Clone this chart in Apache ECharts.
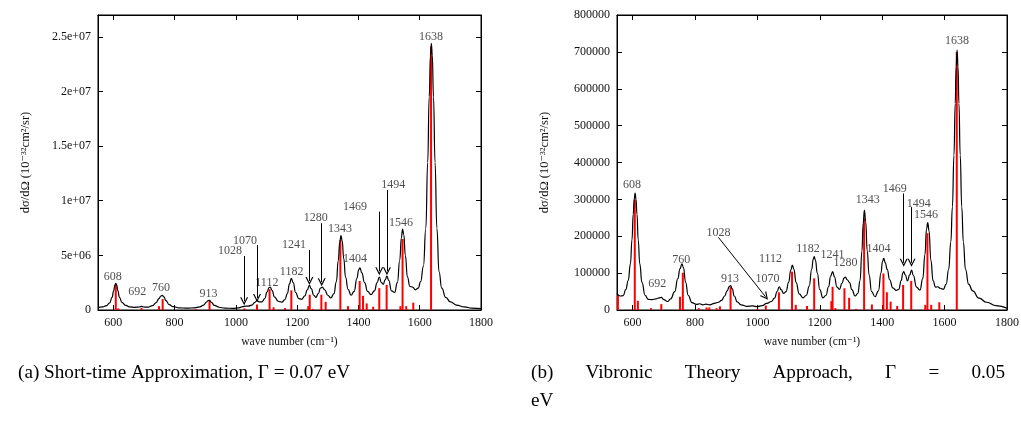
<!DOCTYPE html>
<html lang="en">
<head>
<meta charset="utf-8">
<title>Raman spectra</title>
<script src="https://cdn.jsdelivr.net/npm/echarts@6.0.0/dist/echarts.min.js"></script>
<style>
  html, body { margin: 0; padding: 0; background: #fff; }
  #main { width: 1021px; height: 441px; }
</style>
</head>
<body>
<div id="main"></div>
<script type="text/javascript">
// ---- axis ticks ----
var xTicks = [600, 800, 1000, 1200, 1400, 1600, 1800];
var yTicksA = [0, 5e6, 1e7, 1.5e7, 2e7, 2.5e7];
var yTicksB = [0, 100000, 200000, 300000, 400000, 500000, 600000, 700000, 800000];

// ---- (a) short-time approximation ----
// broadened spectrum [wave number, dσ/dΩ]
var curveA = [
    [550, 0.22e6], [565, 0.28e6], [578, 0.4e6], [588, 0.65e6], [596, 1.15e6], [601, 1.75e6], [605, 2.25e6],
    [608, 2.45e6], [611, 2.3e6], [615, 1.75e6], [620, 1.15e6], [628, 0.7e6], [640, 0.42e6], [655, 0.28e6],
    [670, 0.24e6], [682, 0.27e6], [692, 0.33e6], [702, 0.26e6], [715, 0.27e6], [728, 0.4e6], [740, 0.68e6],
    [749, 1.05e6], [755, 1.28e6], [760, 1.33e6], [765, 1.2e6], [772, 0.85e6], [782, 0.5e6], [795, 0.3e6],
    [815, 0.2e6], [840, 0.17e6], [865, 0.2e6], [882, 0.28e6], [895, 0.45e6], [904, 0.72e6], [910, 0.87e6],
    [914, 0.88e6], [920, 0.7e6], [930, 0.42e6], [945, 0.25e6], [965, 0.17e6], [990, 0.15e6], [1010, 0.2e6],
    [1022, 0.3e6], [1030, 0.36e6], [1040, 0.35e6], [1052, 0.45e6], [1062, 0.7e6], [1069, 0.85e6], [1076, 0.75e6],
    [1085, 0.75e6], [1094, 1.05e6], [1102, 1.65e6], [1108, 2.05e6], [1112, 2.1e6], [1118, 1.8e6], [1126, 1.2e6],
    [1138, 0.8e6], [1150, 0.72e6], [1160, 0.95e6], [1168, 1.5e6], [1175, 2.4e6], [1181, 2.9e6], [1187, 2.5e6],
    [1195, 1.6e6], [1205, 1.05e6], [1215, 0.98e6], [1225, 1.3e6], [1233, 1.85e6], [1240, 2.25e6], [1246, 1.95e6],
    [1254, 1.35e6], [1261, 1.15e6], [1269, 1.5e6], [1276, 2.0e6], [1282, 2.1e6], [1290, 1.85e6], [1300, 1.35e6],
    [1310, 1.1e6], [1320, 1.5e6], [1328, 2.6e6], [1334, 4.5e6], [1339, 6.2e6], [1343, 6.8e6], [1347, 6.3e6],
    [1352, 4.7e6], [1358, 3.0e6], [1366, 1.9e6], [1376, 1.35e6], [1386, 1.7e6], [1395, 2.9e6], [1401, 3.7e6],
    [1405, 3.85e6], [1411, 3.4e6], [1420, 2.5e6], [1430, 1.7e6], [1441, 1.4e6], [1452, 1.75e6], [1461, 2.5e6],
    [1468, 3.0e6], [1475, 2.5e6], [1481, 2.35e6], [1487, 2.75e6], [1493, 3.1e6], [1499, 2.7e6], [1508, 1.75e6],
    [1518, 1.6e6], [1527, 2.5e6], [1535, 4.6e6], [1540, 6.6e6], [1544, 7.4e6], [1548, 6.9e6], [1553, 5.0e6],
    [1560, 3.0e6], [1568, 2.15e6], [1577, 2.1e6], [1586, 1.85e6], [1595, 2.0e6], [1603, 2.6e6], [1612, 4.0e6],
    [1620, 7.5e6], [1626, 13.5e6], [1631, 19.5e6], [1635, 23.3e6], [1638, 24.4e6], [1641, 23.3e6], [1645, 19.5e6],
    [1650, 13.5e6], [1656, 7.5e6], [1663, 3.5e6], [1672, 2.0e6], [1685, 1.15e6], [1700, 0.75e6], [1720, 0.45e6],
    [1745, 0.28e6], [1770, 0.18e6], [1800, 0.12e6]
];
// stick spectrum
var sticksA = [
    [608, 2.35e6], [616, 0.15e6], [692, 0.2e6], [749, 0.35e6], [761, 1.0e6], [870, 0.08e6], [914, 0.85e6],
    [1028, 0.15e6], [1069, 0.5e6], [1110, 1.9e6], [1123, 0.25e6], [1160, 0.18e6], [1181, 1.8e6], [1236, 0.35e6],
    [1241, 1.4e6], [1252, 0.1e6], [1279, 1.4e6], [1293, 0.75e6], [1341, 6.4e6], [1366, 0.35e6], [1404, 2.65e6],
    [1415, 1.3e6], [1427, 0.6e6], [1448, 0.3e6], [1468, 2.0e6], [1492, 2.3e6], [1537, 0.35e6], [1544, 6.5e6],
    [1556, 0.35e6], [1579, 0.67e6], [1637, 2.41e7]
];
// peak labels [wave number, value, text]
var labelsA = [
    [598, 3.0e6, '608'], [678, 1.67e6, '692'], [756, 1.99e6, '760'], [911, 1.46e6, '913'],
    [981, 5.43e6, '1028'], [1030, 6.34e6, '1070'], [1101, 2.44e6, '1112'], [1182, 3.5e6, '1182'],
    [1190, 5.95e6, '1241'], [1261, 8.39e6, '1280'], [1340, 7.39e6, '1343'], [1389, 4.64e6, '1404'],
    [1389, 9.4e6, '1469'], [1514, 1.144e7, '1494'], [1539, 7.94e6, '1546'], [1637, 2.50e7, '1638']
];
// arrows [x1, y1, x2, y2]
var arrowsA = [
    [1027, 4.94e6, 1027, 0.8e6], [1069, 5.95e6, 1069, 1.1e6], [1240, 5.49e6, 1240, 2.65e6],
    [1280, 7.94e6, 1280, 2.55e6], [1468, 9.0e6, 1468, 3.55e6], [1493, 1.098e7, 1493, 3.55e6]
];

// ---- (b) vibronic theory approach ----
var curveB = [
    [550, 4.5e4], [560, 3.8e4], [570, 3.9e4], [578, 5.5e4], [586, 8e4], [593, 1.25e5], [598, 1.9e5],
    [602, 2.6e5], [605, 3.0e5], [608, 3.17e5], [611, 3.0e5], [614, 2.6e5], [618, 1.9e5], [623, 1.25e5],
    [630, 7.5e4], [640, 4e4], [650, 2.9e4], [662, 2.8e4], [675, 3.0e4], [685, 3.3e4], [692, 3.4e4],
    [700, 2.8e4], [712, 2.3e4], [722, 3e4], [735, 5e4], [745, 8.5e4], [752, 1.12e5], [758, 1.25e5],
    [763, 1.15e5], [770, 7.5e4], [778, 4e4], [790, 2e4], [805, 1.5e4], [815, 1.7e4], [825, 1.4e4],
    [835, 1.6e4], [848, 1.4e4], [862, 1.8e4], [875, 2.1e4], [885, 2.6e4], [895, 3.8e4], [903, 5.2e4],
    [910, 6.4e4], [914, 6.6e4], [919, 5.8e4], [926, 3.8e4], [935, 2.2e4], [948, 1.4e4], [965, 1.0e4],
    [985, 1.1e4], [1000, 9e3], [1015, 1.2e4], [1030, 1.8e4], [1045, 2.3e4], [1055, 3.2e4], [1063, 5e4],
    [1070, 6.3e4], [1076, 5.5e4], [1084, 4.5e4], [1092, 5e4], [1100, 7.5e4], [1107, 1.08e5], [1112, 1.22e5],
    [1117, 1.1e5], [1124, 7.5e4], [1134, 4.4e4], [1146, 3.3e4], [1157, 4e4], [1166, 6.5e4], [1174, 1.1e5],
    [1179, 1.38e5], [1182, 1.45e5], [1186, 1.35e5], [1192, 1.0e5], [1200, 5.5e4], [1210, 3.3e4], [1220, 4e4],
    [1228, 6.3e4], [1235, 9.2e4], [1241, 1.04e5], [1247, 9e4], [1255, 6.2e4], [1263, 5.6e4], [1271, 7.2e4],
    [1278, 8.7e4], [1282, 8.9e4], [1288, 8.2e4], [1295, 7.5e4], [1303, 5.5e4], [1313, 3.8e4], [1322, 4.5e4],
    [1329, 8e4], [1335, 1.6e5], [1339, 2.35e5], [1343, 2.71e5], [1347, 2.4e5], [1352, 1.6e5], [1358, 9.5e4],
    [1366, 5e4], [1377, 3.6e4], [1388, 5.2e4], [1396, 1.0e5], [1401, 1.32e5], [1405, 1.4e5], [1410, 1.28e5],
    [1416, 1.1e5], [1424, 8.2e4], [1434, 6e4], [1445, 5.3e4], [1453, 5.6e4], [1461, 8e4], [1466, 1.0e5],
    [1469, 1.04e5], [1474, 9.5e4], [1481, 7.9e4], [1488, 9.5e4], [1494, 1.08e5], [1500, 9.3e4], [1510, 6.2e4],
    [1521, 5.4e4], [1530, 8.5e4], [1537, 1.5e5], [1542, 2.2e5], [1546, 2.37e5], [1550, 2.15e5], [1556, 1.35e5],
    [1563, 8.0e4], [1571, 6.2e4], [1578, 6.3e4], [1586, 5.9e4], [1596, 5.6e4], [1605, 7e4], [1613, 1.1e5],
    [1620, 1.85e5], [1625, 2.8e5], [1630, 4.2e5], [1634, 5.6e5], [1637, 6.6e5], [1640, 7.05e5], [1643, 6.6e5],
    [1646, 5.6e5], [1650, 4.2e5], [1655, 2.8e5], [1660, 1.85e5], [1667, 1.1e5], [1677, 7e4], [1690, 5.2e4],
    [1710, 3.2e4], [1735, 2.1e4], [1765, 1.2e4], [1800, 5e3]
];
var sticksB = [
    [553, 4e4], [607, 3.0e5], [617, 2.5e4], [659, 5e3], [692, 1.6e4], [752, 3.6e4], [761, 1.01e5], [812, 5e3],
    [837, 7e3], [846, 7e3], [869, 5e3], [880, 1e4], [914, 6.2e4], [1000, 3e3], [1027, 1.2e4], [1069, 4.8e4],
    [1111, 1.04e5], [1123, 1.4e4], [1159, 1.1e4], [1182, 8.6e4], [1237, 2.4e4], [1241, 6.3e4], [1250, 5e3],
    [1279, 5.9e4], [1294, 3.3e4], [1316, 3e3], [1342, 2.49e5], [1367, 1.5e4], [1404, 9.9e4], [1415, 4.8e4],
    [1427, 2.25e4], [1448, 1.1e4], [1467, 6.8e4], [1493, 7.9e4], [1538, 1.4e4], [1545, 2.08e5], [1557, 1.4e4],
    [1583, 2.1e4], [1639, 7.0e5]
];
var labelsB = [
    [598, 3.39e5, '608'], [679, 7.2e4, '692'], [756, 1.37e5, '760'], [912, 8.4e4, '913'],
    [875, 2.08e5, '1028'], [1032, 8.4e4, '1070'], [1042, 1.38e5, '1112'], [1162, 1.67e5, '1182'],
    [1241, 1.49e5, '1241'], [1282, 1.27e5, '1280'], [1354, 2.98e5, '1343'], [1388, 1.67e5, '1404'],
    [1440, 3.28e5, '1469'], [1517, 2.89e5, '1494'], [1540, 2.58e5, '1546'], [1640, 7.3e5, '1638']
];
var arrowsB = [
    [875, 1.97e5, 1026, 3.6e4], [1469, 3.16e5, 1469, 1.28e5], [1494, 2.79e5, 1494, 1.28e5]
];

var captionA = '(a) Short-time Approximation, Γ = 0.07 eV';
var captionB = ['(b)', 'Vibronic', 'Theory', 'Approach,', 'Γ', '=', '0.05'];
var captionB2 = 'eV';

// ---- chart ----
var SERIF = '"Liberation Serif", "DejaVu Serif", serif';
var INK = '#111';
var arrowHead = 'path://M5,0 L10,10 L8.4,10 L5,3.2 L1.6,10 L0,10 Z';

function gnuplotExp(v) {
    if (v === 0) return '0';
    return v.toExponential().replace(/e\+(\d)$/, 'e+0$1');
}

function xAxisPair(gi) {
    var base = {
        gridIndex: gi, type: 'value', min: 550, max: 1800,
        splitLine: {show: false},
        axisLine: {show: true, onZero: false, lineStyle: {color: '#000', width: 1}},
        axisTick: {show: true, inside: true, length: 5, customValues: xTicks, lineStyle: {color: '#000'}}
    };
    var bottom = Object.assign({}, base, {
        position: 'bottom',
        name: 'wave number (cm⁻¹)', nameLocation: 'middle', nameGap: 26,
        nameTextStyle: {fontFamily: SERIF, fontSize: 11.5, color: INK},
        axisLabel: {
            customValues: xTicks, formatter: function (v) { return String(v); },
            fontFamily: SERIF, fontSize: 12, color: INK, margin: 7
        }
    });
    var top = Object.assign({}, base, {
        position: 'top',
        axisLabel: {show: true, customValues: xTicks, formatter: function () { return ''; }}
    });
    return [bottom, top];
}

function yAxisPair(gi, max, ticks, fmt) {
    var base = {
        gridIndex: gi, type: 'value', min: 0, max: max,
        splitLine: {show: false},
        axisLine: {show: true, onZero: false, lineStyle: {color: '#000', width: 1}},
        axisTick: {show: true, inside: true, length: 5, customValues: ticks, lineStyle: {color: '#000'}}
    };
    var left = Object.assign({}, base, {
        position: 'left',
        name: 'dσ/dΩ (10⁻³²cm²/sr)', nameLocation: 'middle', nameGap: 66,
        nameTextStyle: {fontFamily: SERIF, fontSize: 12.5, color: INK},
        axisLabel: {customValues: ticks, formatter: fmt, fontFamily: SERIF, fontSize: 12, color: INK, margin: 7}
    });
    var right = Object.assign({}, base, {position: 'right', axisLabel: {show: false}});
    return [left, right];
}

function stickSeries(data, xi, yi) {
    return {
        type: 'bar', xAxisIndex: xi, yAxisIndex: yi, data: data,
        barWidth: 2, itemStyle: {color: '#ff0000'}, z: 2, silent: true
    };
}

function curveSeries(data, xi, yi) {
    return {
        type: 'line', xAxisIndex: xi, yAxisIndex: yi, data: data,
        smooth: 0.5, smoothMonotone: 'x', showSymbol: false, symbol: 'none',
        lineStyle: {color: '#000', width: 1.2}, z: 3, silent: true
    };
}

function noteSeries(labels, arrows, xi, yi) {
    return {
        type: 'scatter', xAxisIndex: xi, yAxisIndex: yi, symbolSize: 0, z: 4, silent: true,
        itemStyle: {color: 'transparent'},
        data: labels.map(function (l) { return {value: [l[0], l[1]], name: l[2]}; }),
        label: {
            show: true, position: 'inside', formatter: '{b}',
            fontFamily: SERIF, fontSize: 12, color: '#222'
        },
        markLine: {
            silent: true, animation: false,
            symbol: ['none', arrowHead], symbolSize: 8,
            lineStyle: {color: '#000', width: 1, type: 'solid'},
            label: {show: false},
            emphasis: {disabled: true},
            data: arrows.map(function (a) {
                return [{coord: [a[0], a[1]]}, {coord: [a[2], a[3]]}];
            })
        }
    };
}

var myChart = echarts.init(document.getElementById('main'));

// justify caption (b) across its text width
var CAP_FONT = '19.2px "Liberation Serif"';
var ctx = document.createElement('canvas').getContext('2d');
ctx.font = CAP_FONT;
var capLeft = 531, capRight = 1005;
var wordsW = captionB.reduce(function (s, w) { return s + ctx.measureText(w).width; }, 0);
var gap = (capRight - capLeft - wordsW) / (captionB.length - 1);
var capEls = [];
var cx = capLeft;
captionB.forEach(function (w) {
    capEls.push({type: 'text', x: cx, y: 363, style: {text: w, font: CAP_FONT, fill: '#000'}});
    cx += ctx.measureText(w).width + gap;
});
capEls.push({type: 'text', x: capLeft, y: 391, style: {text: captionB2, font: CAP_FONT, fill: '#000'}});
capEls.push({type: 'text', x: 18, y: 363, style: {text: captionA, font: CAP_FONT, fill: '#000'}});

var xa = xAxisPair(0), xb = xAxisPair(1);
var ya = yAxisPair(0, 2.7e7, yTicksA, gnuplotExp);
var yb = yAxisPair(1, 800000, yTicksB, function (v) { return String(v); });

option = {
    animation: false,
    backgroundColor: '#fff',
    grid: [
        {left: 98, top: 15, width: 383, height: 295, outerBoundsMode: 'none',
         show: true, borderColor: '#000', borderWidth: 1, backgroundColor: 'transparent'},
        {left: 617, top: 15, width: 390, height: 295, outerBoundsMode: 'none',
         show: true, borderColor: '#000', borderWidth: 1, backgroundColor: 'transparent'}
    ],
    xAxis: [xa[0], xa[1], xb[0], xb[1]],
    yAxis: [ya[0], ya[1], yb[0], yb[1]],
    series: [
        stickSeries(sticksA, 0, 0),
        curveSeries(curveA, 0, 0),
        noteSeries(labelsA, arrowsA, 0, 0),
        stickSeries(sticksB, 2, 2),
        curveSeries(curveB, 2, 2),
        noteSeries(labelsB, arrowsB, 2, 2)
    ],
    graphic: capEls
};
myChart.setOption(option);
</script>
</body>
</html>
